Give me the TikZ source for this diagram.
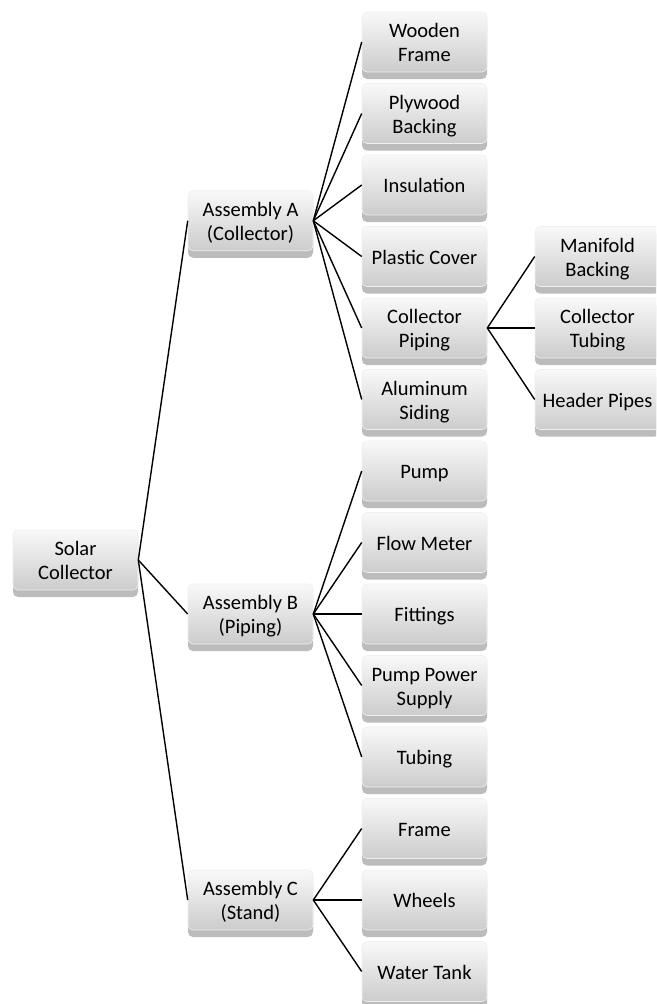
\documentclass[tikz,border=0pt]{standalone}
\usepackage{fontspec}
\setmainfont{Carlito}
\usetikzlibrary{shadows}
\newcommand\tup{\rule{0pt}{22.5pt}}
\begin{document}
\begin{tikzpicture}[x=1pt,y=-1pt,
  box/.style={minimum width=125pt, minimum height=60pt, rounded corners=5pt,
    top color=white!95!gray, bottom color=gray!40, draw=gray!12, line width=0.6pt,
    align=center, inner sep=2pt, font=\fontsize{20.5}{24}\selectfont,
    drop shadow={shadow xshift=0pt, shadow yshift=-7pt, fill=gray!70, opacity=0.75}},
  link/.style={draw=black, line width=1.4pt}]
\useasboundingbox (0,0) rectangle (656,1004);
\fill[white] (0,0) rectangle (656,1004);
\clip (0,0) rectangle (656,1004);
% level 1
\node[box] (sc) at (75.5,560) {\tup Solar\\\strut Collector};
% level 2
\node[box] (a) at (250.5,220.75) {\tup Assembly A\\\strut (Collector)};
\node[box] (b) at (250.5,614) {\tup Assembly B\\\strut (Piping)};
\node[box] (c) at (250.5,900) {\tup Assembly C\\\strut (Stand)};
% level 3
\node[box] (a1) at (424.5,42) {\tup Wooden\\\strut Frame};
\node[box] (a2) at (424.5,113.5) {\tup Plywood\\\strut Backing};
\node[box] (a3) at (424.5,185) {\tup\strut Insulation};
\node[box] (a4) at (424.5,256.5) {\tup\strut Plastic Cover};
\node[box] (a5) at (424.5,328) {\tup Collector\\\strut Piping};
\node[box] (a6) at (424.5,399.5) {\tup Aluminum\\\strut Siding};
\node[box] (b1) at (424.5,471) {\tup\strut Pump};
\node[box] (b2) at (424.5,542.5) {\tup\strut Flow Meter};
\node[box] (b3) at (424.5,614) {\tup\strut Fittings};
\node[box] (b4) at (424.5,685.5) {\tup Pump Power\\\strut Supply};
\node[box] (b5) at (424.5,757) {\tup\strut Tubing};
\node[box] (c1) at (424.5,828.5) {\tup\strut Frame};
\node[box] (c2) at (424.5,900) {\tup\strut Wheels};
\node[box] (c3) at (424.5,971.5) {\tup\strut Water Tank};
% level 4
\node[box] (p1) at (597.5,256.5) {\tup Manifold\\\strut Backing};
\node[box] (p2) at (597.5,328) {\tup Collector\\\strut Tubing};
\node[box] (p3) at (597.5,399.5) {\tup\strut Header Pipes};
% connectors
\foreach \t in {a,b,c} \draw[link] (sc.east) -- (\t.west);
\foreach \t in {a1,a2,a3,a4,a5,a6} \draw[link] (a.east) -- (\t.west);
\foreach \t in {b1,b2,b3,b4,b5} \draw[link] (b.east) -- (\t.west);
\foreach \t in {c1,c2,c3} \draw[link] (c.east) -- (\t.west);
\foreach \t in {p1,p2,p3} \draw[link] (a5.east) -- (\t.west);
\end{tikzpicture}
\end{document}
